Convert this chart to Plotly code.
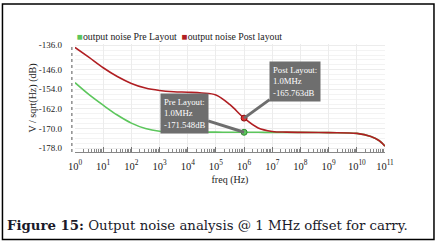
import numpy as np
import plotly.graph_objects as go

# Data (log10 of frequency in Hz)
freq_exp = [0, 0.5, 1, 1.5, 2, 2.5, 3, 3.5, 4, 4.5, 5, 5.5, 6, 6.5, 7, 7.5, 8, 9, 10, 10.5, 10.8, 11]
pre_db  = [-151.3, -156.2, -160.5, -164.5, -167.8, -170.0, -171.1, -171.4, -171.5, -171.5, -171.5, -171.55,
           -171.548, -171.55, -171.6, -171.6, -171.6, -171.7, -172.0, -173.3, -175.0, -177.2]
post_db = [-136.9, -141.0, -145.2, -148.8, -151.6, -153.5, -154.5, -155.0, -155.2, -155.5, -156.3, -160.3,
           -165.763, -169.8, -171.2, -171.5, -171.6, -171.7, -172.0, -173.3, -175.0, -177.2]
y_ticks = [-136.0, -146.0, -154.0, -162.0, -170.0, -178.0]
x_tick_exps = list(range(0, 12))
marker_exp = 6
pre_mark = -171.548
post_mark = -165.763
series_names = ["output noise Pre Layout", "output noise Post layout"]
series_colors = ["#5cc65c", "#b01e22"]

freq = [10 ** e for e in freq_exp]
serif = "Liberation Serif"

fig = go.Figure()
fig.add_trace(go.Scatter(x=freq, y=pre_db, mode="lines", name=series_names[0], showlegend=False,
                         line=dict(color=series_colors[0], width=1.6, shape="spline")))
fig.add_trace(go.Scatter(x=freq, y=post_db, mode="lines", name=series_names[1], showlegend=False,
                         line=dict(color=series_colors[1], width=1.6, shape="spline")))
fig.add_trace(go.Scatter(x=[10 ** marker_exp], y=[pre_mark], mode="markers", showlegend=False,
                         marker=dict(color="#5cc65c", size=6, line=dict(color="#2e8a2e", width=1))))
fig.add_trace(go.Scatter(x=[10 ** marker_exp], y=[post_mark], mode="markers", showlegend=False,
                         marker=dict(color="#e03030", size=6, line=dict(color="#8a1010", width=1))))

fig.add_annotation(x=marker_exp, y=pre_mark, xref="x", yref="y",
                   text="Pre Layout:<br>1.0MHz<br>-171.548dB", align="left",
                   showarrow=True, arrowhead=0, arrowwidth=3, arrowcolor="#6e6e6e",
                   ax=-60, ay=-19, bgcolor="#6e6e6e", borderpad=3,
                   font=dict(family=serif, size=8.7, color="white"))
fig.add_annotation(x=marker_exp, y=post_mark, xref="x", yref="y",
                   text="Post Layout:<br>1.0MHz<br>-165.763dB", align="left",
                   showarrow=True, arrowhead=0, arrowwidth=3, arrowcolor="#6e6e6e",
                   ax=51, ay=-37, bgcolor="#6e6e6e", borderpad=3,
                   font=dict(family=serif, size=8.7, color="white"))

# Legend (drawn as text with coloured squares)
legend_text = "".join(
    f"<span style='color:{c}'>■</span>{n}&nbsp;&nbsp;" for n, c in zip(series_names, series_colors)
)
fig.add_annotation(x=0.0, y=1.065, xref="paper", yref="paper", xanchor="left", yanchor="middle",
                   showarrow=False, text=legend_text,
                   font=dict(family=serif, size=9.8, color="#222"))

# Caption
fig.add_annotation(x=-0.226, y=-0.676, xref="paper", yref="paper", xanchor="left", yanchor="middle",
                   showarrow=False,
                   text="<b>Figure 15:</b> Output noise analysis @ 1 MHz offset for carry.",
                   font=dict(family="DejaVu Serif", size=13.3, color="#1a1a2a"))

# Outer border and dotted y axis line
fig.add_shape(type="rect", xref="paper", yref="paper", x0=-0.234, x1=1.158, y0=-0.81, y1=1.37,
              line=dict(color="black", width=1.5))
fig.add_shape(type="line", xref="paper", yref="paper", x0=-0.01, x1=-0.01, y0=0, y1=1,
              line=dict(color="#555", width=1, dash="dot"))

fig.update_layout(
    width=439, height=244,
    margin=dict(l=75, r=54, t=44, b=92),
    paper_bgcolor="white", plot_bgcolor="white",
    font=dict(family=serif, size=10, color="#222"),
    showlegend=False,
)
fig.update_xaxes(type="log", range=[0, 11], automargin=False,
                 tickvals=[10 ** e for e in x_tick_exps],
                 ticktext=[f"10<sup>{e}</sup>" for e in x_tick_exps],
                 ticks="inside", ticklen=5, tickcolor="#777",
                 showline=True, linecolor="#888", linewidth=1,
                 showgrid=True, gridcolor="#ececec", gridwidth=1,
                 minor=dict(ticks="inside", ticklen=3, tickcolor="#888", dtick="D1", showgrid=False),
                 ticklabelstandoff=4,
                 tickfont=dict(family=serif, size=10.5),
                 title=dict(text="freq (Hz)", font=dict(family=serif, size=10), standoff=5))
fig.update_yaxes(range=[-179.6, -135.5], automargin=False,
                 tickvals=y_ticks, ticktext=[f"{v:.1f}" for v in y_ticks],
                 ticks="", showline=False, zeroline=False,
                 showgrid=True, gridcolor="#ececec", gridwidth=1,
                 minor=dict(dtick=2, showgrid=True, gridcolor="#f3f3f3"),
                 ticklabelstandoff=12,
                 tickfont=dict(family=serif, size=9),
                 title=dict(text="V / sqrt(Hz) (dB)", font=dict(family=serif, size=10), standoff=0))

fig.write_html("out.html", config={"displayModeBar": False},
               post_script="document.body.style.margin='0';document.body.style.overflow='hidden';")
